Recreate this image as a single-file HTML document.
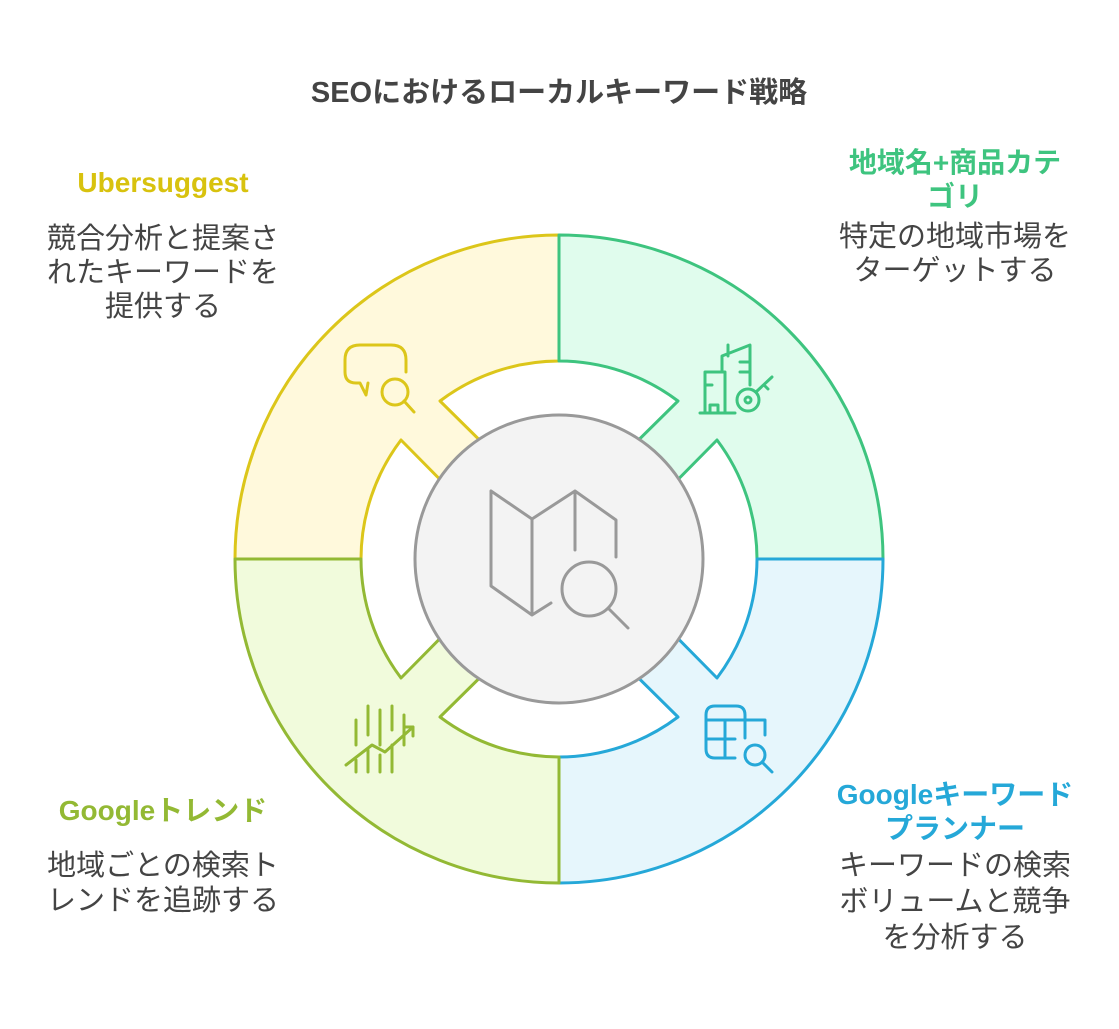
<!DOCTYPE html>
<html><head><meta charset="utf-8"><style>
body{margin:0;background:#fff;}
svg{display:block}
text{font-family:"Liberation Sans","Noto Sans CJK JP",sans-serif;}
.t{font-size:29px;fill:#444;text-anchor:middle}
.h{font-size:28px;font-weight:bold;text-anchor:middle}
</style></head><body>
<svg width="1119" height="1029" viewBox="0 0 1119 1029">
<text x="559" y="102" text-anchor="middle" style="font-size:29px;font-weight:bold;fill:#444">SEOにおけるローカルキーワード戦略</text>
<g stroke-width="3" stroke-linejoin="round">
<path d="M235,559 A324,324 0 0 1 559,235 L559,361 A198,198 0 0 0 440,401 L520,480 L480,520 L401,440 A198,198 0 0 0 361,559 Z" fill="#fff9dc" stroke="#dcc61a"/>
<path d="M883,559 A324,324 0 0 0 559,235 L559,361 A198,198 0 0 1 678,401 L598,480 L638,520 L717,440 A198,198 0 0 1 757,559 Z" fill="#e0fced" stroke="#3ec47f"/>
<path d="M883,559 A324,324 0 0 1 559,883 L559,757 A198,198 0 0 0 678,717 L598,638 L638,598 L717,678 A198,198 0 0 0 757,559 Z" fill="#e6f6fc" stroke="#25a8d8"/>
<path d="M235,559 A324,324 0 0 0 559,883 L559,757 A198,198 0 0 1 440,717 L520,638 L480,598 L401,678 A198,198 0 0 1 361,559 Z" fill="#f1fbdc" stroke="#93b934"/>
</g>
<circle cx="559" cy="559" r="144" fill="#f3f3f3" stroke="#999" stroke-width="3"/>
<g fill="none" stroke="#999" stroke-width="3" stroke-linecap="round" stroke-linejoin="round">
<path d="M491,491 L532,519 L575,491 L616,520 L616,557 M575,491 L575,550 M491,491 L491,586 L532,615 L551,603 M532,519 L532,615"/>
<circle cx="589" cy="589" r="27"/><path d="M609,609 L628,628"/>
</g>
<g fill="none" stroke="#dcc61a" stroke-width="3" stroke-linecap="round" stroke-linejoin="round">
<path d="M406,372 L406,360 Q406,345 391,345 L360,345 Q345,345 345,360 L345,372 Q345,383 356,383 L360,383 L366,395 L368,383"/>
<circle cx="395" cy="392" r="13"/><path d="M404,401 L414,412"/>
</g>
<g fill="none" stroke="#3ec47f" stroke-width="3" stroke-linecap="round" stroke-linejoin="round">
<path d="M705,413 L705,372 L725,372 L725,413 Z M705,385 L712,385 M710,413 L710,405 L718,405 L718,413 M722,372 L722,356 L750,345 L750,385 M728,356 L728,345 M740,362 L750,362 M740,372 L750,372 M700,413 L735,413"/>
<circle cx="748" cy="400" r="11"/><circle cx="748" cy="400" r="3"/><path d="M756,392 L772,377 M764,385 L768,389"/>
</g>
<g fill="none" stroke="#25a8d8" stroke-width="3" stroke-linecap="round" stroke-linejoin="round">
<path d="M745,738 L745,715 Q745,706 736,706 L715,706 Q706,706 706,715 L706,749 Q706,758 715,758 L735,758 M706,720 L765,720 L765,735 M706,739 L735,739 M725,720 L725,758"/>
<circle cx="755" cy="755" r="10"/><path d="M762,762 L772,772"/>
</g>
<g fill="none" stroke="#93b934" stroke-width="3" stroke-linecap="round" stroke-linejoin="round">
<path d="M356,720 L356,745 M368,706 L368,735 M380,710 L380,745 M392,706 L392,730 M404,715 L404,745 M356,760 L356,772 M368,750 L368,772 M380,755 L380,772 M392,745 L392,772 M346,765 L372,745 L385,752 L413,727 M404,727 L413,727 L413,736"/>
</g>
<text class="h" x="163" y="192" style="fill:#d8c20e">Ubersuggest</text>
<text class="t" x="163" y="248">競合分析と提案さ</text>
<text class="t" x="163" y="282">れたキーワードを</text>
<text class="t" x="163" y="316">提供する</text>
<text class="h" x="955" y="172" style="fill:#3ec47f">地域名+商品カテ</text>
<text class="h" x="955" y="206" style="fill:#3ec47f">ゴリ</text>
<text class="t" x="955" y="246">特定の地域市場を</text>
<text class="t" x="955" y="280">ターゲットする</text>
<text class="h" x="163" y="820" style="fill:#93b934">Googleトレンド</text>
<text class="t" x="163" y="875">地域ごとの検索ト</text>
<text class="t" x="163" y="910">レンドを追跡する</text>
<text class="h" x="955" y="804" style="fill:#25a8d8">Googleキーワード</text>
<text class="h" x="955" y="838" style="fill:#25a8d8">プランナー</text>
<text class="t" x="955" y="875">キーワードの検索</text>
<text class="t" x="955" y="911">ボリュームと競争</text>
<text class="t" x="955" y="947">を分析する</text>
</svg>
</body></html>
